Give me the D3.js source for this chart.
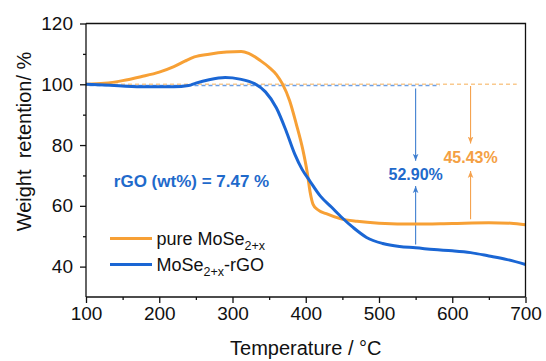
<!DOCTYPE html>
<html>
<head>
<meta charset="utf-8">
<script src="https://cdn.jsdelivr.net/npm/d3@7"></script>
<style>
  body { margin: 0; background: #fff; }
  svg { font-family: "Liberation Sans", Arial, sans-serif; }
</style>
</head>
<body>
<div id="chart"></div>
<script>
// TGA curves
const tempPure = [100, 125, 150, 175, 200, 220, 235, 248, 268, 292, 312, 322, 338, 350, 360, 368, 378, 387, 396, 402, 406, 410, 416, 428, 447, 470, 500, 550, 600, 650, 680, 700];
const wtPure = [100, 100.3, 101.2, 102.5, 104, 105.8, 107.6, 109, 109.9, 110.6, 110.8, 110.2, 107.8, 105.6, 103.2, 100.2, 94.6, 87, 78.5, 71, 64.5, 60.5, 58.8, 57.4, 55.8, 54.9, 54.3, 54.0, 54.2, 54.4, 54.3, 53.8];

const tempRgo = [100, 125, 175, 220, 240, 250, 268, 290, 310, 330, 345, 360, 373, 385, 395, 405, 420, 435, 450, 465, 483, 505, 528, 550, 575, 600, 625, 650, 675, 700];
const wtRgo = [100, 99.8, 99.2, 99.2, 99.6, 100.4, 101.5, 102.2, 101.7, 100.2, 97.5, 92.2, 84.8, 77, 72, 68.4, 63.2, 59.6, 56, 52.8, 49.6, 47.6, 46.6, 46.2, 45.6, 45.2, 44.6, 43.5, 42.3, 40.7];

const xTicks = [100, 200, 300, 400, 500, 600, 700];
const yTicks = [40, 60, 80, 100, 120];

const lossLabels = ["52.90%", "45.43%"];
const rgoLabel = "rGO (wt%) = 7.47 %";

const width = 546, height = 361;
const margin = { top: 23.5, right: 20.5, bottom: 64, left: 86 };

const orange = "#f7a035";
const blue = "#1a66d4";

const svg = d3.select("#chart").append("svg")
  .attr("width", width)
  .attr("height", height);

const x = d3.scaleLinear().domain([100, 700]).range([margin.left, width - margin.right]);
const y = d3.scaleLinear().domain([30, 120]).range([height - margin.bottom, margin.top]);

const defs = svg.append("defs");
const addArrow = (id, color) => {
  defs.append("marker")
    .attr("id", id)
    .attr("viewBox", "0 0 10 10")
    .attr("refX", 10).attr("refY", 5)
    .attr("markerWidth", 7).attr("markerHeight", 7)
    .attr("markerUnits", "userSpaceOnUse")
    .attr("orient", "auto")
    .append("path")
    .attr("d", "M0,1 L10,5 L0,9 L2.5,5 Z")
    .attr("fill", color);
};
addArrow("arrBlue", "#3f7fd0");
addArrow("arrOrange", "#f5a24e");

// dashed reference lines at start weight
svg.append("line")
  .attr("x1", x(100)).attr("x2", x(688))
  .attr("y1", y(100)).attr("y2", y(100))
  .attr("stroke", "#f9c98e").attr("stroke-width", 1.5)
  .attr("stroke-dasharray", "4,3");
svg.append("line")
  .attr("x1", x(100)).attr("x2", x(583))
  .attr("y1", y(99.6)).attr("y2", y(99.6))
  .attr("stroke", "#6e9fe2").attr("stroke-width", 1.5)
  .attr("stroke-dasharray", "4,3")
  .attr("stroke-dashoffset", 3.5);

// arrows
const arrows = [
  { t: 550, from: 98.6, to: 74.8, color: "#3f7fd0", m: "arrBlue" },
  { t: 550, from: 47.3, to: 66.5, color: "#3f7fd0", m: "arrBlue" },
  { t: 625, from: 99.4, to: 80.5, color: "#f5a24e", m: "arrOrange" },
  { t: 625, from: 55.6, to: 71.5, color: "#f5a24e", m: "arrOrange" }
];
svg.selectAll(".arrow").data(arrows).join("line")
  .attr("class", "arrow")
  .attr("x1", (d) => x(d.t)).attr("x2", (d) => x(d.t))
  .attr("y1", (d) => y(d.from)).attr("y2", (d) => y(d.to))
  .attr("stroke", (d) => d.color).attr("stroke-width", 1.1)
  .attr("marker-end", (d) => `url(#${d.m})`);

// curves
const line = d3.line()
  .x((d) => x(d[0]))
  .y((d) => y(d[1]))
  .curve(d3.curveMonotoneX);

svg.append("path")
  .datum(d3.zip(tempPure, wtPure))
  .attr("d", line)
  .attr("fill", "none")
  .attr("stroke", orange)
  .attr("stroke-width", 3);

svg.append("path")
  .datum(d3.zip(tempRgo, wtRgo))
  .attr("d", line)
  .attr("fill", "none")
  .attr("stroke", blue)
  .attr("stroke-width", 3);

// axes
const xAxis = svg.append("g")
  .attr("transform", `translate(0,${y(30)})`)
  .call(d3.axisBottom(x).tickValues(xTicks).tickSize(6).tickPadding(4).tickFormat(d3.format("d")));
const yAxis = svg.append("g")
  .attr("transform", `translate(${x(100)},0)`)
  .call(d3.axisLeft(y).tickValues(yTicks).tickSize(6).tickPadding(7).tickFormat(d3.format("d")));

// minor ticks
svg.append("g")
  .attr("transform", `translate(0,${y(30)})`)
  .call(d3.axisBottom(x).tickValues(d3.range(150, 700, 100)).tickSize(3).tickFormat(""))
  .call((g) => g.select(".domain").remove());
svg.append("g")
  .attr("transform", `translate(${x(100)},0)`)
  .call(d3.axisLeft(y).tickValues([50, 70, 90, 110]).tickSize(3).tickFormat(""))
  .call((g) => g.select(".domain").remove());

svg.selectAll(".tick line").attr("stroke", "#111").attr("stroke-width", 1.3);
svg.selectAll(".domain").attr("stroke", "#111").attr("stroke-width", 1.3);
[xAxis, yAxis].forEach((g) => g.selectAll(".tick text")
  .attr("fill", "#111")
  .style("font-size", "19px"));
xAxis.selectAll(".domain").attr("d", `M${x(100)},0H${x(700)}`);
yAxis.selectAll(".domain").attr("d", `M0,${y(30)}V${y(120)}`);

// top and right frame
svg.append("path")
  .attr("d", `M${x(100)},${y(120)}H${x(700)}V${y(30)}`)
  .attr("fill", "none")
  .attr("stroke", "#111")
  .attr("stroke-width", 1.3);

// axis titles
svg.append("text")
  .attr("x", (x(100) + x(700)) / 2)
  .attr("y", 355)
  .attr("text-anchor", "middle")
  .style("font-size", "20px")
  .attr("fill", "#111")
  .text("Temperature / °C");

svg.append("text")
  .attr("transform", "translate(31,141.5) rotate(-90)")
  .attr("text-anchor", "middle")
  .style("font-size", "20px")
  .style("white-space", "pre")
  .attr("fill", "#111")
  .text("Weight  retention/ %");

// annotations
svg.append("text")
  .attr("x", x(138))
  .attr("y", y(66.2))
  .style("font-size", "17px")
  .style("font-weight", "bold")
  .attr("fill", "#1f6acb")
  .text(rgoLabel);

svg.append("text")
  .attr("x", x(550))
  .attr("y", y(68.5))
  .attr("text-anchor", "middle")
  .style("font-size", "16px")
  .style("font-weight", "bold")
  .attr("fill", "#1f6acb")
  .text(lossLabels[0]);

svg.append("text")
  .attr("x", x(625))
  .attr("y", y(74.1))
  .attr("text-anchor", "middle")
  .style("font-size", "16px")
  .style("font-weight", "bold")
  .attr("fill", "#f4a043")
  .text(lossLabels[1]);

// legend
const legend = svg.append("g");
const legItems = [
  { color: orange, pre: "pure MoSe", sub: "2+x", post: "" },
  { color: blue, pre: "MoSe", sub: "2+x", post: "-rGO" }
];
legItems.forEach((d, i) => {
  const yy = 238.5 + i * 26;
  legend.append("line")
    .attr("x1", 110).attr("x2", 152)
    .attr("y1", yy).attr("y2", yy)
    .attr("stroke", d.color).attr("stroke-width", 3);
  const t = legend.append("text")
    .attr("x", 156.5)
    .attr("y", yy + 6.5)
    .style("font-size", "18px")
    .attr("fill", "#111");
  t.append("tspan").text(d.pre);
  t.append("tspan").attr("dy", 5).style("font-size", "12.5px").text(d.sub);
  if (d.post) t.append("tspan").attr("dy", -5).text(d.post);
});
</script>
</body>
</html>
